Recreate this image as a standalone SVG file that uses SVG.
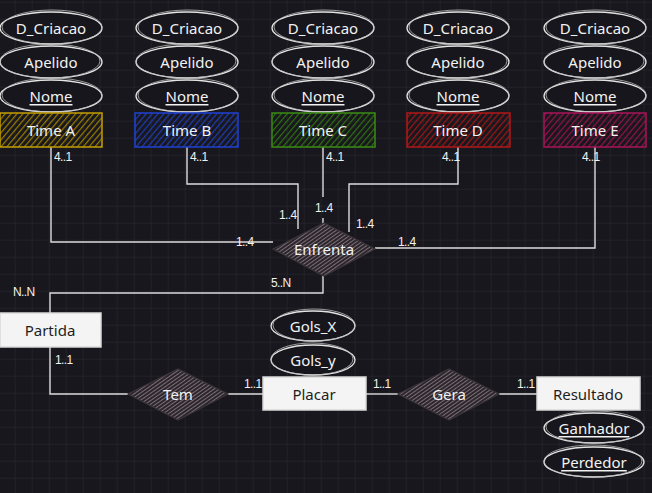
<svg xmlns="http://www.w3.org/2000/svg" width="652" height="493" viewBox="0 0 652 493">
<defs>
<pattern id="grid" x="14.7" y="1.7" width="17" height="17" patternUnits="userSpaceOnUse">
<path d="M0 0H17M0 0V17" stroke="#2c2b33" stroke-width="1" fill="none"/>
</pattern>
<pattern id="hA" width="4.5" height="4.5" patternUnits="userSpaceOnUse" patternTransform="rotate(40)"><line x1="0" y1="0" x2="0" y2="4.5" stroke="#9a7d00" stroke-width="2.4"/></pattern>
<pattern id="hB" width="4.5" height="4.5" patternUnits="userSpaceOnUse" patternTransform="rotate(40)"><line x1="0" y1="0" x2="0" y2="4.5" stroke="#1d3cb4" stroke-width="2.4"/></pattern>
<pattern id="hC" width="4.5" height="4.5" patternUnits="userSpaceOnUse" patternTransform="rotate(40)"><line x1="0" y1="0" x2="0" y2="4.5" stroke="#2d7011" stroke-width="2.4"/></pattern>
<pattern id="hD" width="4.5" height="4.5" patternUnits="userSpaceOnUse" patternTransform="rotate(40)"><line x1="0" y1="0" x2="0" y2="4.5" stroke="#a01515" stroke-width="2.4"/></pattern>
<pattern id="hE" width="4.5" height="4.5" patternUnits="userSpaceOnUse" patternTransform="rotate(40)"><line x1="0" y1="0" x2="0" y2="4.5" stroke="#961149" stroke-width="2.4"/></pattern>
<pattern id="hR" width="3" height="3" patternUnits="userSpaceOnUse" patternTransform="rotate(55)"><rect width="3" height="3" fill="#2a262b"/><line x1="0" y1="0" x2="0" y2="3" stroke="#8c7a83" stroke-width="1.7"/></pattern>
</defs>
<style>
.t{font-family:"Noto Sans","Liberation Sans",sans-serif;font-size:15px;text-anchor:middle;dominant-baseline:central;fill:#f2f2f2}
.d{fill:#1e1e1e}
.u{text-decoration:underline}
.c{font-family:"Liberation Sans",sans-serif;font-size:12px;fill:#f2f2f2;dominant-baseline:central;letter-spacing:-0.6px}
.e{fill:#17161c;stroke:#e4e4e4;stroke-width:1.3}
.e2{fill:none;stroke:#bdbdbd;stroke-width:0.8}
.w{fill:#f4f4f4;stroke:#d8d8d8;stroke-width:1.5}
.dm{fill:url(#hR);stroke:#3a3438;stroke-width:1.2}
.ln{fill:none;stroke:#dcdcdc;stroke-width:1.4}
</style>
<rect width="652" height="493" fill="#18171d"/>
<rect width="652" height="493" fill="url(#grid)"/>

<g id="connectors">
<path class="ln" d="M51 147V242H273"/>
<path class="ln" d="M187 147V184H298V229"/>
<path class="ln" d="M323 147V197M323 218V224"/>
<path class="ln" d="M458 147V184H349V232"/>
<path class="ln" d="M595 147V248H375"/>
<path class="ln" d="M323 276V293H50V313"/>
<path class="ln" d="M50 347V394H128"/>
<path class="ln" d="M228 394H263"/>
<path class="ln" d="M366 394H398"/>
<path class="ln" d="M499 394H537"/>
<text class="c" x="54" y="157">4..1</text>
<text class="c" x="190" y="157">4..1</text>
<text class="c" x="326" y="157">4..1</text>
<text class="c" x="442" y="157">4..1</text>
<text class="c" x="582" y="157">4..1</text>
<text class="c" x="236" y="242">1..4</text>
<text class="c" x="279" y="215">1..4</text>
<text class="c" x="315" y="208">1..4</text>
<text class="c" x="356" y="224">1..4</text>
<text class="c" x="398" y="242">1..4</text>
<text class="c" x="271" y="283">5..N</text>
<text class="c" x="13" y="292">N..N</text>
<text class="c" x="55" y="360">1..1</text>
<text class="c" x="244" y="384">1..1</text>
<text class="c" x="373" y="384">1..1</text>
<text class="c" x="517" y="384">1..1</text>
</g>

<g id="timeA">
<ellipse class="e" cx="51" cy="28" rx="51" ry="16"/><ellipse class="e2" cx="52" cy="27" rx="50" ry="17"/>
<text class="t" x="51" y="28">D_Criacao</text>
<ellipse class="e" cx="51" cy="62" rx="51" ry="16"/><ellipse class="e2" cx="50" cy="61" rx="50" ry="17"/>
<text class="t" x="51" y="62">Apelido</text>
<ellipse class="e" cx="51" cy="96" rx="51" ry="16"/><ellipse class="e2" cx="52" cy="95" rx="50" ry="17"/>
<text class="t u" x="51" y="96">Nome</text>
<rect x="0" y="113" width="102" height="34" fill="url(#hA)" stroke="#c49e00" stroke-width="1.5"/>
<text class="t" x="51" y="130">Time A</text>
</g>
<g id="timeB">
<ellipse class="e" cx="187" cy="28" rx="51" ry="16"/><ellipse class="e2" cx="188" cy="27" rx="50" ry="17"/>
<text class="t" x="187" y="28">D_Criacao</text>
<ellipse class="e" cx="187" cy="62" rx="51" ry="16"/><ellipse class="e2" cx="186" cy="61" rx="50" ry="17"/>
<text class="t" x="187" y="62">Apelido</text>
<ellipse class="e" cx="187" cy="96" rx="51" ry="16"/><ellipse class="e2" cx="188" cy="95" rx="50" ry="17"/>
<text class="t u" x="187" y="96">Nome</text>
<rect x="135" y="113" width="103" height="34" fill="url(#hB)" stroke="#1f42d2" stroke-width="1.5"/>
<text class="t" x="187" y="130">Time B</text>
</g>
<g id="timeC">
<ellipse class="e" cx="323" cy="28" rx="51" ry="16"/><ellipse class="e2" cx="324" cy="27" rx="50" ry="17"/>
<text class="t" x="323" y="28">D_Criacao</text>
<ellipse class="e" cx="323" cy="62" rx="51" ry="16"/><ellipse class="e2" cx="322" cy="61" rx="50" ry="17"/>
<text class="t" x="323" y="62">Apelido</text>
<ellipse class="e" cx="323" cy="96" rx="51" ry="16"/><ellipse class="e2" cx="324" cy="95" rx="50" ry="17"/>
<text class="t u" x="323" y="96">Nome</text>
<rect x="272" y="113" width="103" height="34" fill="url(#hC)" stroke="#3a8c14" stroke-width="1.5"/>
<text class="t" x="323" y="130">Time C</text>
</g>
<g id="timeD">
<ellipse class="e" cx="458" cy="28" rx="51" ry="16"/><ellipse class="e2" cx="459" cy="27" rx="50" ry="17"/>
<text class="t" x="458" y="28">D_Criacao</text>
<ellipse class="e" cx="458" cy="62" rx="51" ry="16"/><ellipse class="e2" cx="457" cy="61" rx="50" ry="17"/>
<text class="t" x="458" y="62">Apelido</text>
<ellipse class="e" cx="458" cy="96" rx="51" ry="16"/><ellipse class="e2" cx="459" cy="95" rx="50" ry="17"/>
<text class="t u" x="458" y="96">Nome</text>
<rect x="407" y="113" width="103" height="34" fill="url(#hD)" stroke="#b01818" stroke-width="1.5"/>
<text class="t" x="458" y="130">Time D</text>
</g>
<g id="timeE">
<ellipse class="e" cx="595" cy="28" rx="51" ry="16"/><ellipse class="e2" cx="596" cy="27" rx="50" ry="17"/>
<text class="t" x="595" y="28">D_Criacao</text>
<ellipse class="e" cx="595" cy="62" rx="51" ry="16"/><ellipse class="e2" cx="594" cy="61" rx="50" ry="17"/>
<text class="t" x="595" y="62">Apelido</text>
<ellipse class="e" cx="595" cy="96" rx="51" ry="16"/><ellipse class="e2" cx="596" cy="95" rx="50" ry="17"/>
<text class="t u" x="595" y="96">Nome</text>
<rect x="544" y="113" width="102" height="34" fill="url(#hE)" stroke="#a8145a" stroke-width="1.5"/>
<text class="t" x="595" y="130">Time E</text>
</g>

<g id="enfrenta">
<path class="dm" d="M273 249L324 223L375 249L324 276Z"/>
<text class="t" x="324" y="249">Enfrenta</text>
</g>
<g id="partida">
<rect class="w" x="0" y="313" width="101" height="34"/>
<text class="t d" x="50" y="330">Partida</text>
</g>
<g id="tem">
<path class="dm" d="M128 394L178 369L228 394L178 420Z"/>
<text class="t" x="178" y="394">Tem</text>
</g>
<g id="placar">
<ellipse class="e" cx="313" cy="326" rx="42" ry="15"/><ellipse class="e2" cx="314" cy="325" rx="41" ry="16"/>
<text class="t" x="313" y="326">Gols_X</text>
<ellipse class="e" cx="313" cy="360" rx="42" ry="15"/><ellipse class="e2" cx="312" cy="359" rx="41" ry="16"/>
<text class="t" x="313" y="360">Gols_y</text>
<rect class="w" x="263" y="377" width="103" height="33"/>
<text class="t d" x="314" y="394">Placar</text>
</g>
<g id="gera">
<path class="dm" d="M398 394L449 369L499 394L449 420Z"/>
<text class="t" x="449" y="394">Gera</text>
</g>
<g id="resultado">
<rect class="w" x="537" y="377" width="103" height="33"/>
<text class="t d" x="588" y="394">Resultado</text>
<ellipse class="e" cx="594" cy="428" rx="50" ry="15"/><ellipse class="e2" cx="595" cy="427" rx="49" ry="16"/>
<text class="t u" x="594" y="428">Ganhador</text>
<ellipse class="e" cx="594" cy="462" rx="50" ry="15"/><ellipse class="e2" cx="593" cy="461" rx="49" ry="16"/>
<text class="t u" x="594" y="462">Perdedor</text>
</g>
</svg>
